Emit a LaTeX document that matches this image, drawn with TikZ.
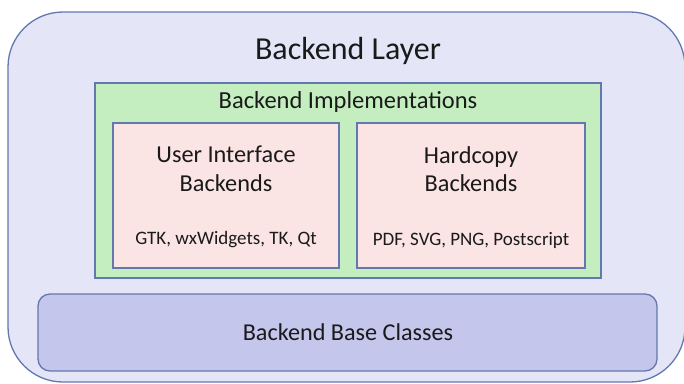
\documentclass[tikz,border=0pt]{standalone}
\usepackage{fontspec}
\setmainfont{Carlito}
\definecolor{outerfill}{HTML}{E4E6F7}
\definecolor{edge}{HTML}{6478B0}
\definecolor{greenfill}{HTML}{C4EEC0}
\definecolor{pinkfill}{HTML}{FBE4E4}
\definecolor{basefill}{HTML}{C4C6EC}
\definecolor{txt}{HTML}{1A1A1A}
\begin{document}
\begin{tikzpicture}[x=1pt,y=-1pt,
  boxline/.style={draw=edge,line width=1.3pt},
  lbl/.style={text=txt,inner sep=0pt,align=center}]
\useasboundingbox (0,0) rectangle (684,383);
\fill[white] (0,0) rectangle (684,383);
% outer layer
\draw[boxline,fill=outerfill,rounded corners=55pt] (8,12) rectangle (685,382);
\node[lbl,font=\fontsize{32}{36}\selectfont] (layer) at (348,51) {Backend Layer};
% implementations
\draw[boxline,fill=greenfill] (95,83) rectangle (601,278);
\node[lbl,font=\fontsize{24.5}{28}\selectfont] (impl) at (348,102) {Backend Implementations};
% UI backends
\draw[boxline,fill=pinkfill] (113,123) rectangle (339,268);
\node[lbl,font=\fontsize{24.3}{28.5}\selectfont] (ui) at (226,169) {User Interface\\Backends};
\node[lbl,font=\fontsize{19}{22}\selectfont] (uilist) at (226,240) {GTK, wxWidgets, TK, Qt};
% Hardcopy backends
\draw[boxline,fill=pinkfill] (357,123) rectangle (585,268);
\node[lbl,font=\fontsize{24.3}{28.5}\selectfont] (hc) at (471,169) {Hardcopy\\Backends};
\node[lbl,font=\fontsize{19}{22}\selectfont] (hclist) at (471,240) {PDF, SVG, PNG, Postscript};
% base classes
\draw[boxline,fill=basefill,rounded corners=12pt] (38,294) rectangle (657,371);
\node[lbl,font=\fontsize{24.2}{28}\selectfont] (base) at (348,332) {Backend Base Classes};
\end{tikzpicture}
\end{document}
